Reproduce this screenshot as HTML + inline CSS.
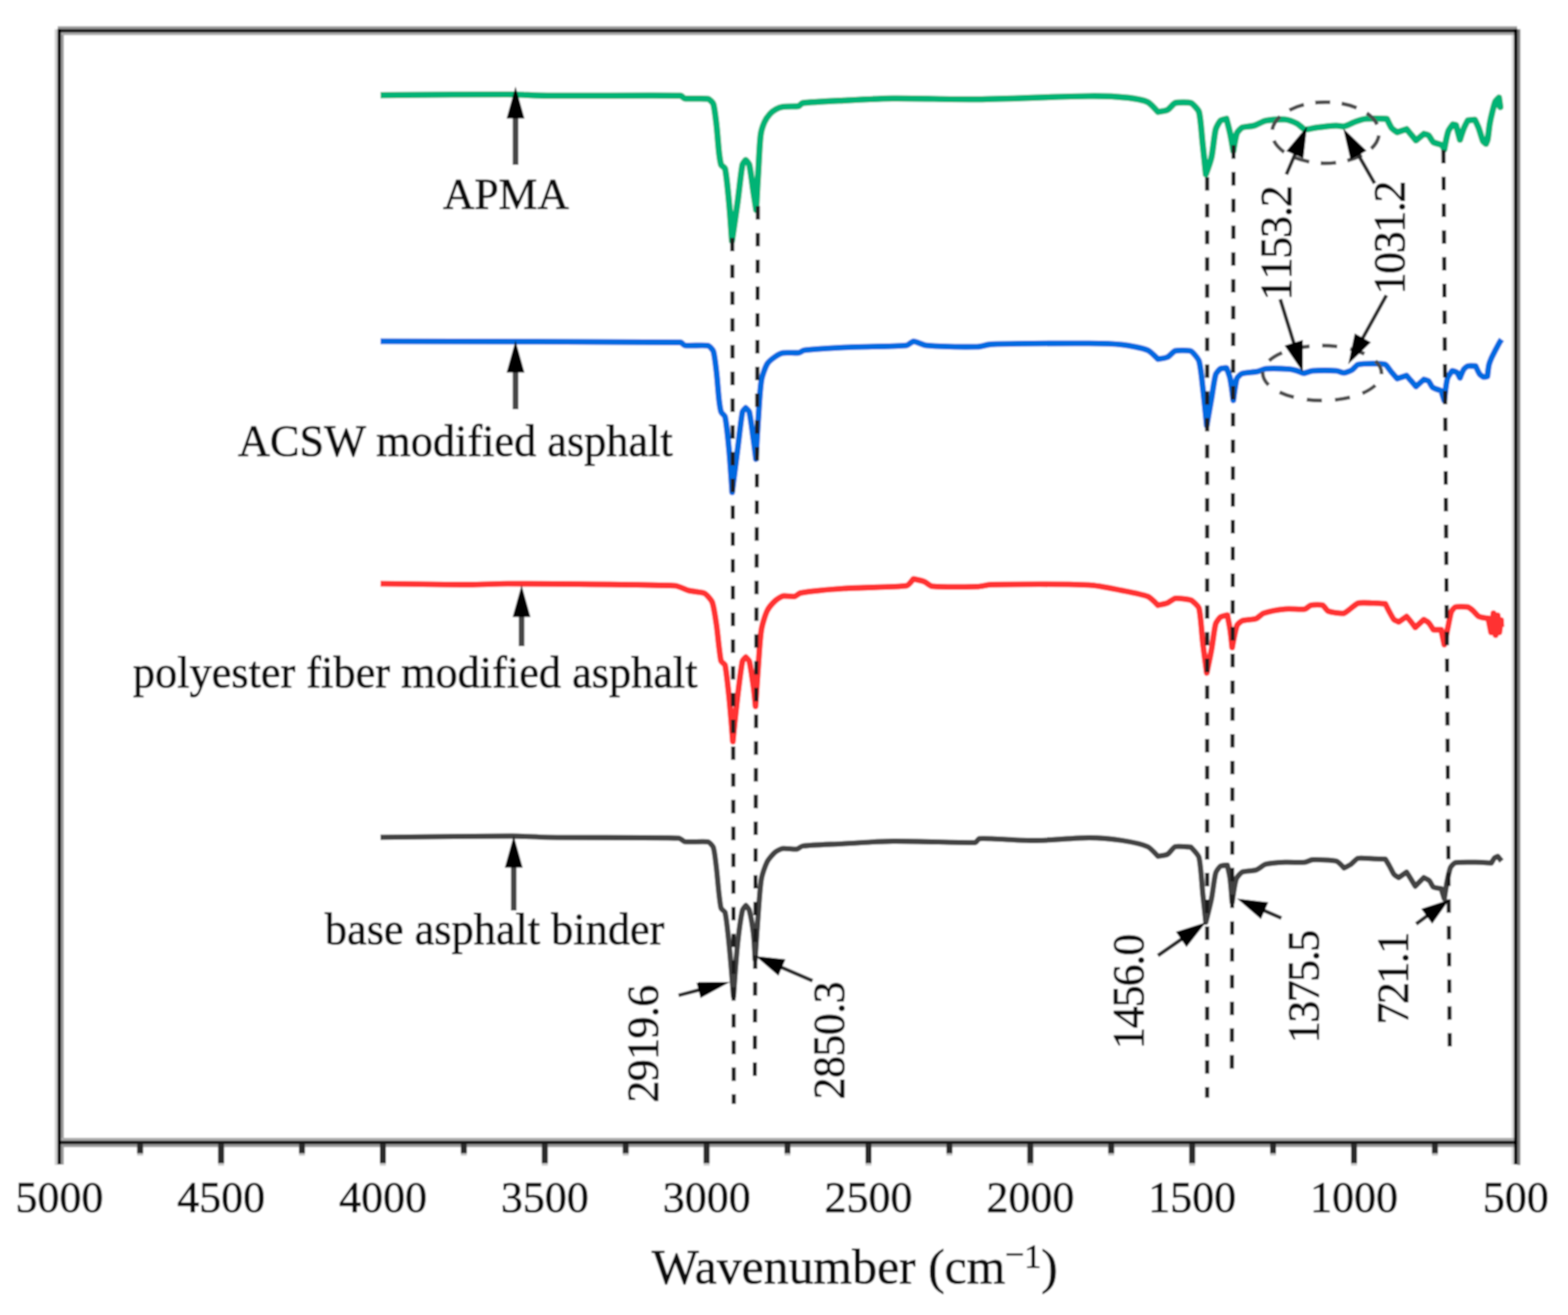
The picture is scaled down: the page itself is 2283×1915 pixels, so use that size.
<!DOCTYPE html>
<html lang="en"><head><meta charset="utf-8"><title>FTIR spectra</title>
<style>html,body{margin:0;padding:0;background:#fff}body{width:2283px;height:1915px;overflow:hidden}svg{display:block}text{font-family:"Liberation Serif","Times New Roman",serif;fill:#111;stroke:#111;stroke-width:1.1px;stroke-linejoin:round}</style></head><body>
<svg width="2283" height="1915" viewBox="0 0 2283 1915">
<defs><filter id="soft" x="0" y="0" width="100%" height="100%" filterUnits="objectBoundingBox"><feGaussianBlur stdDeviation="1.25"/></filter></defs>
<rect width="2283" height="1915" fill="#fff"/>
<g filter="url(#soft)">
<rect width="2283" height="1915" fill="#fff"/>
<g id="frame" fill="none">
<rect x="79.6" y="42.6" width="4.6" height="1654" fill="#d2d2d2" stroke="none"/>
<rect x="88.1" y="46.9" width="4.8" height="1649" fill="#9c9c9c" stroke="none"/>
<rect x="2200.8" y="46.9" width="4.4" height="1649" fill="#dedede" stroke="none"/>
<rect x="2209" y="42.6" width="4.6" height="1654" fill="#7e7e7e" stroke="none"/>
<rect x="84" y="38.3" width="2125" height="4.5" fill="#9a9a9a" stroke="none"/>
<rect x="88.3" y="46.8" width="2117" height="4.4" fill="#ababab" stroke="none"/>
<rect x="88.3" y="1657" width="2117" height="4.6" fill="#ababab" stroke="none"/>
<rect x="88.3" y="1665.9" width="2117" height="4.6" fill="#9a9a9a" stroke="none"/>
<rect x="84" y="42.4" width="2125.1" height="4.8" fill="#161616" stroke="none"/>
<rect x="84" y="1661.3" width="2125.1" height="4.9" fill="#161616" stroke="none"/>
<rect x="83.8" y="42.4" width="4.8" height="1653.2" fill="#000" stroke="none"/>
<rect x="2204.5" y="42.4" width="4.8" height="1653.2" fill="#000" stroke="none"/>
</g>
<g id="ticks">
<rect x="199.6" y="1666" width="8.8" height="17.0" fill="#c9c9c9"/>
<rect x="199.6" y="1666" width="8.8" height="13.5" fill="#2b2b2b"/>
<rect x="317.5" y="1666" width="8.8" height="31.5" fill="#c9c9c9"/>
<rect x="317.5" y="1666" width="8.8" height="28.0" fill="#2b2b2b"/>
<rect x="435.3" y="1666" width="8.8" height="17.0" fill="#c9c9c9"/>
<rect x="435.3" y="1666" width="8.8" height="13.5" fill="#2b2b2b"/>
<rect x="553.1" y="1666" width="8.8" height="31.5" fill="#c9c9c9"/>
<rect x="553.1" y="1666" width="8.8" height="28.0" fill="#2b2b2b"/>
<rect x="670.9" y="1666" width="8.8" height="17.0" fill="#c9c9c9"/>
<rect x="670.9" y="1666" width="8.8" height="13.5" fill="#2b2b2b"/>
<rect x="788.8" y="1666" width="8.8" height="31.5" fill="#c9c9c9"/>
<rect x="788.8" y="1666" width="8.8" height="28.0" fill="#2b2b2b"/>
<rect x="906.6" y="1666" width="8.8" height="17.0" fill="#c9c9c9"/>
<rect x="906.6" y="1666" width="8.8" height="13.5" fill="#2b2b2b"/>
<rect x="1024.4" y="1666" width="8.8" height="31.5" fill="#c9c9c9"/>
<rect x="1024.4" y="1666" width="8.8" height="28.0" fill="#2b2b2b"/>
<rect x="1142.2" y="1666" width="8.8" height="17.0" fill="#c9c9c9"/>
<rect x="1142.2" y="1666" width="8.8" height="13.5" fill="#2b2b2b"/>
<rect x="1260.1" y="1666" width="8.8" height="31.5" fill="#c9c9c9"/>
<rect x="1260.1" y="1666" width="8.8" height="28.0" fill="#2b2b2b"/>
<rect x="1377.9" y="1666" width="8.8" height="17.0" fill="#c9c9c9"/>
<rect x="1377.9" y="1666" width="8.8" height="13.5" fill="#2b2b2b"/>
<rect x="1495.7" y="1666" width="8.8" height="31.5" fill="#c9c9c9"/>
<rect x="1495.7" y="1666" width="8.8" height="28.0" fill="#2b2b2b"/>
<rect x="1613.5" y="1666" width="8.8" height="17.0" fill="#c9c9c9"/>
<rect x="1613.5" y="1666" width="8.8" height="13.5" fill="#2b2b2b"/>
<rect x="1731.4" y="1666" width="8.8" height="31.5" fill="#c9c9c9"/>
<rect x="1731.4" y="1666" width="8.8" height="28.0" fill="#2b2b2b"/>
<rect x="1849.2" y="1666" width="8.8" height="17.0" fill="#c9c9c9"/>
<rect x="1849.2" y="1666" width="8.8" height="13.5" fill="#2b2b2b"/>
<rect x="1967.0" y="1666" width="8.8" height="31.5" fill="#c9c9c9"/>
<rect x="1967.0" y="1666" width="8.8" height="28.0" fill="#2b2b2b"/>
<rect x="2084.8" y="1666" width="8.8" height="17.0" fill="#c9c9c9"/>
<rect x="2084.8" y="1666" width="8.8" height="13.5" fill="#2b2b2b"/>
</g>
<g id="ticklabels" font-size="64" text-anchor="middle">
<text x="86.5" y="1765">5000</text>
<text x="322.1" y="1765">4500</text>
<text x="557.7" y="1765">4000</text>
<text x="793.3" y="1765">3500</text>
<text x="1028.9" y="1765">3000</text>
<text x="1264.6" y="1765">2500</text>
<text x="1500.2" y="1765">2000</text>
<text x="1735.8" y="1765">1500</text>
<text x="1971.4" y="1765">1000</text>
<text x="2207.0" y="1765">500</text>
</g>
<text id="xtitle" x="949" y="1869.3" font-size="72.4" fill="#000" stroke="#000" stroke-width="1.1" stroke-linejoin="round">Wavenumber (cm<tspan font-size="49" dy="-26.5">−</tspan><tspan font-size="49" dy="3.5">1</tspan><tspan dy="23">)</tspan></text>
<g id="curves" fill="none" stroke-linejoin="round" stroke-linecap="butt">
<path d="M554.0,1219.4 C554.0,1219.4 689.7,1217.5 745.7,1217.5 C760.7,1217.5 781.9,1219.2 797.0,1219.4 C853.5,1220.1 948.9,1219.3 988.6,1220.6 C990.6,1220.7 995.0,1225.4 997.0,1225.7 C1004.0,1226.6 1025.6,1224.9 1031.0,1226.0 C1032.8,1226.4 1037.9,1232.0 1038.6,1234.0 C1040.4,1239.4 1042.0,1254.5 1043.0,1263.0 C1044.4,1274.6 1045.6,1291.4 1047.0,1303.0 C1047.7,1308.9 1048.8,1319.4 1050.0,1323.0 C1050.5,1324.4 1055.4,1327.2 1055.7,1328.6 C1057.5,1336.9 1060.1,1360.7 1061.4,1374.0 C1063.7,1396.5 1068.0,1451.0 1068.0,1451.0 C1068.0,1451.0 1071.7,1396.2 1074.0,1374.0 C1075.5,1360.0 1078.7,1336.2 1081.0,1325.7 C1081.4,1323.8 1086.0,1318.6 1086.0,1318.6 C1086.0,1318.6 1090.5,1323.8 1091.0,1325.7 C1093.0,1333.2 1095.9,1350.3 1097.0,1360.0 C1098.2,1370.4 1099.4,1397.0 1099.4,1397.0 C1099.4,1397.0 1102.5,1350.6 1104.0,1331.0 C1105.2,1315.9 1106.4,1293.1 1108.6,1280.0 C1109.8,1273.2 1114.2,1260.6 1117.0,1255.0 C1119.0,1251.2 1125.5,1243.6 1128.6,1241.0 C1130.8,1239.2 1137.3,1236.1 1140.0,1235.7 C1144.3,1235.1 1155.9,1237.1 1160.0,1236.6 C1162.0,1236.3 1166.4,1232.3 1168.6,1232.0 C1182.0,1230.4 1210.7,1229.6 1228.6,1228.6 C1249.9,1227.5 1279.4,1225.2 1300.0,1225.0 C1334.6,1224.7 1400.4,1227.6 1420.0,1227.0 C1421.3,1227.0 1424.4,1221.7 1425.7,1221.4 C1428.5,1220.7 1437.9,1221.2 1443.0,1221.4 C1462.2,1222.0 1489.9,1224.2 1508.6,1224.0 C1530.5,1223.8 1564.3,1220.0 1585.7,1220.0 C1599.1,1220.0 1620.9,1222.0 1634.0,1224.0 C1644.3,1225.6 1663.6,1229.7 1671.0,1233.0 C1675.0,1234.8 1686.0,1247.0 1686.0,1247.0 C1686.0,1247.0 1697.5,1245.4 1700.0,1244.0 C1702.7,1242.5 1708.6,1233.7 1711.0,1233.0 C1714.5,1231.9 1734.0,1233.7 1734.0,1233.7 C1734.0,1233.7 1744.8,1244.9 1745.7,1248.6 C1748.4,1259.4 1749.7,1286.7 1751.4,1303.0 C1752.7,1315.0 1755.7,1343.0 1755.7,1343.0 C1755.7,1343.0 1762.0,1318.6 1764.0,1308.6 C1766.1,1298.0 1767.8,1279.5 1770.0,1271.4 C1770.7,1268.8 1775.4,1262.5 1777.0,1261.4 C1778.3,1260.5 1787.0,1260.0 1787.0,1260.0 C1787.0,1260.0 1790.3,1274.3 1791.0,1280.0 C1792.2,1289.5 1794.0,1314.0 1794.0,1314.0 C1794.0,1314.0 1797.7,1286.8 1800.0,1280.0 C1800.9,1277.4 1806.5,1271.0 1808.6,1270.0 C1811.9,1268.5 1824.1,1268.5 1828.6,1267.0 C1832.3,1265.8 1839.3,1259.6 1843.0,1258.6 C1849.2,1257.0 1863.1,1256.1 1871.0,1255.7 C1879.2,1255.3 1892.9,1256.4 1900.0,1255.7 C1902.8,1255.4 1908.3,1252.1 1911.0,1252.0 C1919.1,1251.7 1939.5,1252.4 1945.7,1254.0 C1948.4,1254.7 1957.0,1264.0 1957.0,1264.0 C1957.0,1264.0 1964.6,1260.3 1967.0,1258.6 C1969.8,1256.6 1974.8,1250.5 1977.0,1250.0 C1980.9,1249.1 1993.1,1250.4 2000.0,1250.6 C2005.1,1250.7 2017.1,1251.1 2017.1,1251.1 C2017.1,1251.1 2021.3,1258.0 2022.9,1260.9 C2025.0,1264.5 2027.8,1271.0 2029.7,1273.4 C2030.8,1274.8 2036.6,1278.0 2036.6,1278.0 C2036.6,1278.0 2048.0,1270.0 2048.0,1270.0 C2048.0,1270.0 2052.0,1276.4 2053.7,1279.1 C2055.8,1282.5 2060.6,1290.6 2060.6,1290.6 C2060.6,1290.6 2073.1,1278.0 2073.1,1278.0 C2073.1,1278.0 2079.7,1281.2 2081.1,1282.6 C2082.8,1284.3 2085.4,1290.7 2086.9,1291.7 C2088.5,1292.7 2098.3,1294.0 2098.3,1294.0 C2098.3,1294.0 2102.9,1308.9 2102.9,1308.9 C2102.9,1308.9 2105.8,1289.2 2107.4,1281.4 C2108.5,1276.1 2110.4,1266.6 2112.0,1263.1 C2112.8,1261.3 2117.3,1256.6 2118.9,1256.3 C2123.8,1255.3 2140.1,1255.6 2148.6,1255.7 C2155.2,1255.8 2171.4,1256.9 2171.4,1256.9 C2171.4,1256.9 2174.8,1250.7 2176.0,1249.4 C2176.7,1248.6 2180.6,1247.1 2180.6,1247.1 C2180.6,1247.1 2186.3,1254.0 2186.3,1254.0" stroke="#424242" stroke-width="7.8"/>
<path d="M554.0,850.0 C554.0,850.0 645.1,851.4 683.0,851.4 C699.8,851.4 723.3,849.9 740.0,850.0 C811.4,850.4 923.7,850.7 983.0,853.0 C988.2,853.2 997.4,858.6 1003.0,860.0 C1009.1,861.6 1021.9,862.1 1025.7,864.0 C1028.5,865.4 1035.7,873.6 1037.0,877.0 C1039.4,883.3 1041.6,899.5 1043.0,908.6 C1044.5,918.4 1045.7,932.9 1047.0,943.0 C1047.8,948.9 1048.8,959.4 1050.0,963.0 C1050.5,964.4 1055.4,967.2 1055.7,968.6 C1057.5,976.9 1060.0,1000.7 1061.4,1014.0 C1063.4,1033.3 1067.0,1080.0 1067.0,1080.0 C1067.0,1080.0 1071.7,1033.4 1074.0,1014.0 C1075.8,998.9 1078.8,973.3 1081.0,963.0 C1081.3,961.4 1086.0,957.0 1086.0,957.0 C1086.0,957.0 1090.6,961.4 1091.0,963.0 C1092.9,970.6 1095.5,989.2 1097.0,1000.0 C1098.1,1008.3 1100.0,1028.6 1100.0,1028.6 C1100.0,1028.6 1102.7,988.1 1104.0,971.0 C1105.2,954.9 1106.3,931.1 1108.6,917.0 C1109.8,909.5 1114.1,895.6 1117.0,889.5 C1118.9,885.6 1125.3,878.1 1128.6,875.0 C1131.0,872.8 1137.4,868.6 1140.0,868.0 C1143.3,867.3 1153.6,869.2 1157.0,868.6 C1159.0,868.2 1163.5,863.8 1165.7,863.4 C1179.7,861.1 1210.3,858.2 1228.6,857.0 C1255.1,855.2 1304.4,855.2 1320.0,853.0 C1322.4,852.7 1330.0,843.0 1330.0,843.0 C1330.0,843.0 1341.9,845.5 1345.7,847.0 C1348.8,848.2 1354.3,853.4 1357.0,853.7 C1370.8,855.0 1404.9,854.8 1423.0,854.3 C1428.5,854.2 1437.5,851.5 1443.0,851.4 C1482.2,850.8 1546.9,850.3 1585.7,852.0 C1599.0,852.6 1620.1,857.3 1634.0,860.0 C1644.8,862.1 1663.3,865.5 1671.0,868.6 C1675.0,870.2 1686.0,881.4 1686.0,881.4 C1686.0,881.4 1696.7,879.3 1700.0,878.0 C1703.0,876.8 1708.6,871.7 1711.0,871.4 C1715.3,870.9 1730.1,872.4 1734.0,874.0 C1736.8,875.2 1744.9,882.8 1745.7,885.7 C1748.2,894.9 1749.6,921.8 1751.4,937.0 C1752.9,949.8 1757.0,980.0 1757.0,980.0 C1757.0,980.0 1762.2,955.8 1764.0,945.7 C1766.0,934.9 1767.8,916.7 1770.0,908.6 C1770.7,906.0 1775.2,900.0 1777.0,898.6 C1778.5,897.4 1787.0,895.7 1787.0,895.7 C1787.0,895.7 1790.1,910.8 1791.0,917.0 C1792.1,924.5 1794.0,943.0 1794.0,943.0 C1794.0,943.0 1798.8,917.0 1801.0,911.0 C1801.7,909.1 1806.7,904.7 1808.6,904.0 C1812.4,902.6 1824.4,902.5 1828.6,901.0 C1831.5,900.0 1837.0,894.0 1840.0,893.0 C1846.8,890.7 1862.6,887.8 1871.0,887.0 C1878.7,886.2 1894.2,887.9 1900.0,887.0 C1902.0,886.7 1906.6,881.8 1908.6,881.4 C1912.0,880.7 1923.1,880.5 1925.7,881.4 C1927.5,882.0 1931.9,889.2 1934.0,890.0 C1938.0,891.5 1953.2,894.0 1957.0,893.0 C1961.1,891.9 1972.5,880.2 1977.0,878.6 C1981.2,877.1 1993.4,878.2 2000.0,878.3 C2004.9,878.4 2017.1,879.4 2017.1,879.4 C2017.1,879.4 2021.1,887.7 2022.9,890.9 C2024.7,894.2 2027.9,900.3 2029.7,902.3 C2030.8,903.4 2036.6,905.7 2036.6,905.7 C2036.6,905.7 2048.0,897.7 2048.0,897.7 C2048.0,897.7 2052.1,902.5 2053.7,904.6 C2055.8,907.2 2060.6,913.7 2060.6,913.7 C2060.6,913.7 2073.1,902.3 2073.1,902.3 C2073.1,902.3 2078.7,905.5 2080.0,906.9 C2082.0,909.0 2086.9,917.1 2086.9,917.1 C2086.9,917.1 2098.3,917.1 2098.3,917.1 C2098.3,917.1 2102.9,938.9 2102.9,938.9 C2102.9,938.9 2106.9,919.6 2108.6,911.4 C2109.9,905.3 2111.5,895.2 2113.1,890.9 C2113.8,889.1 2117.6,884.4 2118.9,884.0 C2121.5,883.2 2133.5,883.3 2137.1,884.0 C2138.7,884.3 2142.3,887.2 2144.0,888.6 C2146.6,890.8 2150.8,896.5 2153.1,897.7 C2155.6,899.0 2166.9,900.5 2166.9,900.5 C2166.9,900.5 2171.0,921.0 2171.0,921.0 C2171.0,921.0 2174.5,893.0 2174.5,893.0 C2174.5,893.0 2177.5,925.0 2177.5,925.0 C2177.5,925.0 2180.5,896.0 2180.5,896.0 C2180.5,896.0 2183.0,921.0 2183.0,921.0 C2183.0,921.0 2185.5,903.0 2185.5,903.0 C2185.5,903.0 2186.0,913.0 2186.0,913.0" stroke="#ff3030" stroke-width="8.6"/>
<path d="M554.0,497.0 C554.0,497.0 907.2,497.5 991.0,498.6 C992.4,498.6 995.6,502.8 997.0,503.0 C1003.5,503.8 1025.6,502.3 1031.0,503.4 C1032.8,503.8 1037.9,509.3 1038.6,511.4 C1040.4,516.8 1042.0,531.7 1043.0,540.0 C1044.5,552.4 1045.6,570.7 1047.0,583.0 C1047.6,587.9 1048.7,596.6 1050.0,600.0 C1050.7,601.8 1055.3,605.2 1055.7,607.0 C1057.7,616.4 1060.1,640.2 1061.4,654.0 C1063.1,672.4 1066.0,717.0 1066.0,717.0 C1066.0,717.0 1071.6,672.9 1074.0,654.0 C1076.1,637.8 1078.8,611.1 1081.0,600.0 C1081.3,598.4 1085.7,594.0 1085.7,594.0 C1085.7,594.0 1090.6,598.4 1091.0,600.0 C1092.9,607.9 1095.3,628.1 1097.0,640.0 C1098.2,648.4 1100.6,668.6 1100.6,668.6 C1100.6,668.6 1102.8,628.1 1104.0,611.0 C1105.2,594.1 1106.3,568.5 1108.6,554.0 C1109.6,547.6 1114.3,534.7 1117.0,530.0 C1118.7,527.1 1125.4,521.7 1128.6,519.5 C1131.2,517.7 1137.2,514.5 1140.0,514.0 C1145.1,513.1 1157.8,514.4 1163.0,513.7 C1165.0,513.4 1168.9,510.2 1171.0,510.0 C1184.6,508.4 1211.7,506.8 1228.6,506.0 C1255.4,504.7 1300.6,504.7 1320.0,503.0 C1322.5,502.8 1328.2,497.0 1330.0,497.0 C1333.0,497.0 1343.7,502.6 1348.6,503.0 C1367.2,504.6 1403.3,505.3 1423.0,505.0 C1428.4,504.9 1437.5,501.6 1443.0,501.4 C1481.7,500.2 1544.1,499.9 1585.7,500.0 C1599.8,500.0 1621.0,500.5 1634.0,502.0 C1644.2,503.2 1663.5,507.0 1671.0,510.0 C1674.9,511.6 1686.0,523.0 1686.0,523.0 C1686.0,523.0 1697.2,521.4 1700.0,520.0 C1702.8,518.7 1708.5,511.6 1711.0,511.0 C1715.0,510.0 1730.8,510.0 1734.0,511.4 C1736.6,512.5 1744.5,522.1 1745.7,525.7 C1748.2,533.6 1750.0,553.9 1751.4,565.7 C1753.3,581.6 1757.0,620.0 1757.0,620.0 C1757.0,620.0 1761.9,592.0 1764.0,580.0 C1765.8,569.7 1767.9,552.8 1770.0,545.7 C1770.7,543.4 1775.4,538.0 1777.0,537.0 C1778.3,536.2 1785.7,535.7 1785.7,535.7 C1785.7,535.7 1790.1,546.8 1791.0,551.0 C1792.8,559.5 1795.7,583.0 1795.7,583.0 C1795.7,583.0 1799.1,556.7 1801.0,551.0 C1801.6,549.2 1806.7,544.6 1808.6,544.0 C1812.8,542.6 1825.1,542.2 1831.0,541.0 C1834.3,540.3 1839.9,537.2 1843.0,537.0 C1851.2,536.4 1868.0,536.9 1877.0,537.5 C1880.2,537.7 1885.5,539.1 1888.6,540.0 C1891.3,540.8 1896.1,543.5 1898.0,543.5 C1900.6,543.5 1907.6,540.3 1911.0,540.0 C1919.8,539.4 1936.9,539.4 1945.7,540.0 C1948.7,540.2 1954.7,543.1 1957.0,543.0 C1959.4,542.9 1966.1,540.1 1968.6,538.6 C1970.9,537.2 1975.0,531.6 1977.0,531.0 C1981.1,529.8 1993.7,529.5 2000.0,529.5 C2004.7,529.5 2014.6,529.7 2017.1,530.9 C2019.2,531.9 2023.5,539.0 2026.3,542.3 C2028.6,545.0 2034.3,551.4 2034.3,551.4 C2034.3,551.4 2048.0,546.9 2048.0,546.9 C2048.0,546.9 2052.0,551.7 2053.7,553.7 C2056.1,556.4 2061.7,562.9 2061.7,562.9 C2061.7,562.9 2073.1,552.6 2073.1,552.6 C2073.1,552.6 2079.0,554.0 2080.0,554.9 C2081.4,556.2 2084.1,562.7 2085.7,564.0 C2087.8,565.6 2098.3,569.0 2098.3,569.0 C2098.3,569.0 2102.9,583.4 2102.9,583.4 C2102.9,583.4 2105.5,558.6 2107.4,551.4 C2108.2,548.4 2114.3,540.0 2114.3,540.0 C2114.3,540.0 2120.2,541.5 2121.1,542.3 C2122.3,543.4 2125.7,550.3 2125.7,550.3 C2125.7,550.3 2129.7,540.2 2131.4,537.7 C2132.3,536.4 2135.8,533.4 2137.1,533.1 C2139.1,532.6 2148.6,533.1 2148.6,533.1 C2148.6,533.1 2152.6,542.3 2154.3,544.6 C2155.2,545.9 2158.9,548.8 2160.0,549.1 C2160.8,549.4 2165.7,548.0 2165.7,548.0 C2165.7,548.0 2167.0,535.4 2168.0,531.0 C2168.6,528.5 2170.3,524.2 2171.4,521.7 C2172.8,518.4 2175.4,513.6 2177.1,510.3 C2179.1,506.6 2182.0,501.2 2184.0,497.7 C2184.6,496.7 2186.3,494.3 2186.3,494.3" stroke="#006ae0" stroke-width="8.6"/>
<path d="M554.0,138.6 C554.0,138.6 685.5,137.3 740.0,137.5 C756.7,137.6 780.2,139.3 797.0,139.4 C854.1,139.8 952.4,138.6 991.0,139.4 C992.4,139.4 995.6,143.2 997.0,143.4 C1003.8,144.2 1025.3,142.9 1031.0,144.0 C1032.8,144.3 1038.0,149.5 1038.6,151.4 C1040.3,156.6 1042.0,171.7 1043.0,180.0 C1044.5,192.4 1045.6,210.7 1047.0,223.0 C1047.6,227.9 1048.8,236.9 1050.0,240.0 C1050.6,241.5 1055.4,244.2 1055.7,245.7 C1057.6,254.5 1060.1,279.8 1061.4,294.0 C1063.0,310.7 1065.7,351.0 1065.7,351.0 C1065.7,351.0 1071.7,311.0 1074.0,294.0 C1076.2,278.0 1078.7,251.8 1081.0,240.0 C1081.4,238.2 1085.7,233.0 1085.7,233.0 C1085.7,233.0 1090.6,238.2 1091.0,240.0 C1093.0,248.4 1095.2,268.0 1097.0,280.0 C1098.2,287.7 1101.0,305.7 1101.0,305.7 C1101.0,305.7 1103.0,267.3 1104.0,251.0 C1105.0,234.9 1105.8,211.1 1107.5,197.0 C1108.1,191.8 1111.0,182.5 1113.0,178.0 C1114.4,174.7 1118.6,168.6 1121.0,166.0 C1122.9,163.9 1127.6,160.3 1130.0,159.0 C1132.3,157.7 1137.4,155.9 1140.0,155.5 C1145.7,154.7 1158.7,155.3 1163.0,154.5 C1164.3,154.2 1167.2,150.2 1168.6,150.0 C1180.2,148.6 1210.8,147.2 1228.6,146.3 C1249.8,145.2 1279.2,143.6 1300.0,143.4 C1335.8,143.1 1386.9,145.0 1423.0,144.6 C1470.8,144.0 1538.8,140.5 1585.7,140.0 C1602.2,139.8 1627.7,140.8 1643.0,142.3 C1650.7,143.1 1665.7,146.0 1671.0,148.6 C1674.9,150.5 1686.0,163.0 1686.0,163.0 C1686.0,163.0 1697.3,161.4 1700.0,160.0 C1702.8,158.6 1708.5,150.7 1711.0,150.0 C1714.8,148.9 1730.6,148.7 1734.0,150.0 C1736.6,151.0 1744.8,159.7 1745.7,163.0 C1748.2,171.6 1749.5,195.0 1751.0,208.6 C1752.5,222.1 1755.7,254.0 1755.7,254.0 C1755.7,254.0 1762.5,235.7 1764.0,228.6 C1766.3,217.9 1767.7,198.0 1770.0,188.6 C1770.8,185.2 1775.3,177.4 1777.0,175.7 C1778.1,174.6 1785.7,173.0 1785.7,173.0 C1785.7,173.0 1789.7,187.9 1791.0,194.0 C1792.6,201.4 1795.7,220.0 1795.7,220.0 C1795.7,220.0 1799.1,199.1 1801.0,194.0 C1801.8,191.8 1806.7,186.5 1808.6,185.7 C1811.5,184.4 1821.4,184.2 1825.7,183.0 C1830.4,181.6 1838.5,176.6 1843.0,175.7 C1849.7,174.4 1864.5,173.4 1871.0,174.0 C1875.3,174.4 1884.5,177.9 1888.6,180.0 C1891.7,181.6 1897.8,188.2 1900.0,188.6 C1902.7,189.1 1912.1,186.3 1917.0,185.7 C1925.2,184.7 1938.0,183.3 1945.7,183.0 C1948.7,182.9 1954.6,184.5 1957.0,184.0 C1960.9,183.2 1969.2,178.7 1974.0,177.0 C1978.0,175.6 1984.8,173.3 1988.6,173.0 C1996.4,172.3 2019.4,173.1 2019.4,173.1 C2019.4,173.1 2024.3,183.8 2026.3,186.5 C2027.7,188.3 2034.3,192.6 2034.3,192.6 C2034.3,192.6 2048.0,188.0 2048.0,188.0 C2048.0,188.0 2052.0,192.8 2053.7,194.9 C2056.1,197.8 2061.7,204.5 2061.7,204.5 C2061.7,204.5 2073.1,194.9 2073.1,194.9 C2073.1,194.9 2079.0,196.2 2080.0,197.1 C2081.7,198.6 2085.0,205.6 2086.9,207.0 C2089.0,208.5 2097.4,210.2 2099.4,211.5 C2100.5,212.2 2102.9,217.7 2102.9,217.7 C2102.9,217.7 2106.5,197.4 2108.6,191.4 C2109.5,188.6 2115.4,181.1 2115.4,181.1 C2115.4,181.1 2120.0,182.3 2120.0,182.3 C2120.0,182.3 2125.7,203.5 2125.7,203.5 C2125.7,203.5 2129.6,191.4 2131.4,186.9 C2132.7,183.6 2137.1,175.4 2137.1,175.4 C2137.1,175.4 2147.4,174.3 2147.4,174.3 C2147.4,174.3 2151.7,183.3 2153.1,186.9 C2155.0,191.9 2157.3,201.2 2159.0,205.0 C2159.6,206.3 2163.5,209.5 2163.5,209.5 C2163.5,209.5 2165.7,204.8 2166.0,203.0 C2167.1,197.1 2168.0,186.5 2169.1,180.0 C2169.9,175.4 2171.4,168.6 2172.6,164.0 C2173.8,159.3 2175.6,151.4 2177.1,148.0 C2177.8,146.4 2182.5,142.0 2182.5,142.0 C2182.5,142.0 2184.5,156.0 2184.5,156.0 C2184.5,156.0 2180.0,150.0 2180.0,150.0 C2180.0,150.0 2183.5,146.0 2183.5,146.0" stroke="#00b374" stroke-width="9.2"/>
</g>
<g id="guides" stroke="#1c1c1c" stroke-width="6" stroke-dasharray="19.6 19.37" fill="none">
<line x1="1066.2" y1="346.5" x2="1068.4" y2="1607.5"/>
<line x1="1103.5" y1="300.2" x2="1099" y2="1567"/>
<line x1="1757.6" y1="257.9" x2="1757.6" y2="1598.5"/>
<line x1="1796" y1="211.6" x2="1793.6" y2="1556.5"/>
<line x1="2101.6" y1="218.5" x2="2110.8" y2="1524.5"/>
</g>
<g id="ellipses" fill="none" stroke="#4c4c4c" stroke-width="5.4">
<path d="M1930,148.7 A78,44.5 0 1 1 1930,237.7 A78,44.5 0 1 1 1930,148.7" stroke-dasharray="22.5 16.7" stroke-dashoffset="15.6"/>
<path d="M1925,503.29999999999995 A86.5,40 0 1 1 1925,583.3 A86.5,40 0 1 1 1925,503.29999999999995" stroke-dasharray="22 19.1" stroke-dashoffset="0"/>
</g>
<g id="arrows">
<line x1="750.6" y1="240.0" x2="750.6" y2="168.5" stroke="#444" stroke-width="8.2"/><polygon points="750.6,126.0 763.6,172.5 737.6,172.5" fill="#000"/>
<line x1="750.6" y1="596.0" x2="750.6" y2="538.5" stroke="#444" stroke-width="8.2"/><polygon points="750.6,496.0 763.6,542.5 737.6,542.5" fill="#000"/>
<line x1="759.4" y1="941.0" x2="759.4" y2="894.5" stroke="#444" stroke-width="8.2"/><polygon points="759.4,852.0 772.4,898.5 746.4,898.5" fill="#000"/>
<line x1="748.0" y1="1326.0" x2="748.0" y2="1259.5" stroke="#444" stroke-width="8.2"/><polygon points="748.0,1217.0 761.0,1263.5 735.0,1263.5" fill="#000"/>
<line x1="988.0" y1="1449.5" x2="1020.9" y2="1440.9" stroke="#2c2c2c" stroke-width="5.4"/><polygon points="1063.0,1430.0 1020.0,1453.6 1014.0,1430.3" fill="#000"/>
<line x1="1183.0" y1="1428.2" x2="1134.9" y2="1407.4" stroke="#2c2c2c" stroke-width="5.4"/><polygon points="1100.0,1392.3 1143.7,1397.0 1133.4,1420.9" fill="#000"/>
<line x1="1686.0" y1="1391.5" x2="1723.1" y2="1365.8" stroke="#2c2c2c" stroke-width="5.4"/><polygon points="1756.0,1343.0 1727.5,1379.2 1712.1,1357.0" fill="#000"/>
<line x1="1865.7" y1="1337.0" x2="1837.6" y2="1324.7" stroke="#2c2c2c" stroke-width="5.4"/><polygon points="1801.0,1308.6 1846.7,1313.9 1835.9,1338.6" fill="#000"/>
<line x1="2062.0" y1="1345.5" x2="2080.5" y2="1331.9" stroke="#2c2c2c" stroke-width="5.4"/><polygon points="2110.3,1310.0 2085.3,1345.2 2069.3,1323.4" fill="#000"/>
<line x1="1873.0" y1="254.0" x2="1886.8" y2="221.7" stroke="#2c2c2c" stroke-width="5.4"/><polygon points="1903.0,184.0 1897.7,230.7 1872.9,220.0" fill="#000"/>
<line x1="2001.4" y1="267.0" x2="1976.0" y2="222.6" stroke="#2c2c2c" stroke-width="5.4"/><polygon points="1955.7,187.0 1989.7,219.4 1966.3,232.8" fill="#000"/>
<line x1="1864.0" y1="435.7" x2="1884.8" y2="502.8" stroke="#2c2c2c" stroke-width="5.4"/><polygon points="1897.0,542.0 1870.3,503.2 1897.0,494.9" fill="#000"/>
<line x1="2018.6" y1="430.0" x2="1982.4" y2="495.5" stroke="#2c2c2c" stroke-width="5.4"/><polygon points="1963.0,530.5 1972.5,485.5 1996.1,498.5" fill="#000"/>
</g>
<g id="labels" font-size="64.5">
<text x="645" y="304" font-size="63.4">APMA</text>
<text x="346.5" y="663.8">ACSW modified asphalt</text>
<text x="193.5" y="1000.8">polyester fiber modified asphalt</text>
<text x="473" y="1375">base asphalt binder</text>
</g>
<g id="peaklabels" font-size="64" style="font-kerning:none;fill:#262626;stroke:#262626;stroke-width:.2px">
<text transform="translate(958.2,1605.8) rotate(-90) scale(1,1.03)" letter-spacing="-0.86">2919.6</text>
<text transform="translate(1229.2,1601.0) rotate(-90) scale(1,1.03)" letter-spacing="-0.82">2850.3</text>
<text transform="translate(1665.2,1527.8) rotate(-90) scale(1,1.03)" letter-spacing="-1.60">1456.0</text>
<text transform="translate(1920.2,1519.2) rotate(-90) scale(1,1.03)" letter-spacing="-2.14">1375.5</text>
<text transform="translate(2050.2,1492.0) rotate(-90) scale(1,1.03)" letter-spacing="-2.25">721.1</text>
<text transform="translate(1880,437.4) rotate(-90) scale(1,1.03)" letter-spacing="-1.66">1153.2</text>
<text transform="translate(2045.2,428.8) rotate(-90) scale(1,1.03)" letter-spacing="-2.02">1031.2</text>
</g>
</g>
</svg></body></html>
